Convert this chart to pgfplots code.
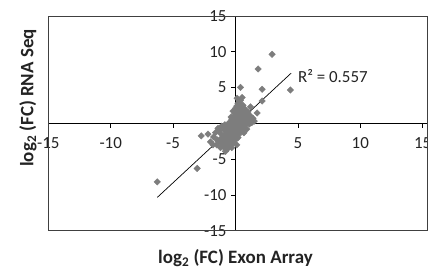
\documentclass[border=0pt]{standalone}
\usepackage{pgfplots}
\pgfplotsset{compat=1.18}
\usepackage{fontspec}
\setmainfont{Carlito}
\definecolor{pt}{RGB}{125,125,125}
\definecolor{txt}{RGB}{35,35,35}
\begin{document}
\begin{tikzpicture}
\begin{axis}[
  scale only axis,
  width=379.4bp, height=214.7bp,
  xmin=-15, xmax=15.4, ymin=-15, ymax=15,
  axis lines=middle,
  axis line style={-, black, line width=0.8pt},
  xtick={-15,-10,...,15}, ytick={-15,-10,...,15},
  tick align=outside,
  major tick length=4.5bp,
  tick style={black, line width=0.8pt},
  /pgf/number format/assume math mode=true,
  ticklabel style={font=\fontsize{17}{20}\selectfont, text=txt},
  xticklabel style={anchor=north, yshift=-6bp},
  yticklabel style={anchor=east, xshift=-1bp},
  xlabel={\textbf{log\textsubscript{2} (FC) Exon Array}},
  ylabel={\textbf{log\textsubscript{2} (FC) RNA Seq}},
  label style={font=\fontsize{19}{22}\selectfont, text=txt},
  xlabel style={at={(axis cs:0,-15)}, anchor=base, yshift=-32.6bp},
  ylabel style={at={(rel axis cs:0,0.618)}, xshift=-15bp, rotate=90, anchor=base},
  clip=false,
]
\draw[black!75, line width=1pt] (rel axis cs:0,0) rectangle (rel axis cs:1,1);
\coordinate (bl) at (rel axis cs:0,0);
\coordinate (tr) at (rel axis cs:1,1);
\addplot[only marks, mark=square*, mark size=2.3bp, mark options={rotate=45, fill=pt, draw=pt}] coordinates {
(2.93,9.65) (1.81,7.6) (0.4,5.03) (2.13,4.76) (4.4,4.66) (2.13,3.12) (1.73,1.45) (1.2,2.3)
(0.13,3.5) (0.53,3.6) (-2.75,-1.75) (-2.2,-1.5) (0.67,-1.3) (-3.07,-6.3) (-6.27,-8.17)
(-1.2,-3.4) (-1.47,-2.3) (-2.0,-2.6) (-1.8,-3.0)
(0.3,3.0) (0.2,2.8) (0.45,2.6) (0.1,2.4) (0.35,2.2) (0.6,2.5) (0.25,2.0) (0.5,1.9)
(0.05,1.8) (0.7,2.1) (0.15,1.6) (0.4,1.5) (0.65,1.7) (0.8,1.8) (0.3,1.3) (0.55,1.2)
(-0.05,1.4) (0.2,1.1) (0.9,1.4) (1.0,1.2) (0.75,1.0) (0.45,0.9) (0.1,0.8) (-0.15,0.9)
(0.35,0.6) (0.6,0.7) (1.1,0.9) (0.85,0.6) (1.2,0.5) (1.4,0.7) (1.5,0.3) (1.3,0.1)
(0.05,0.5) (-0.3,0.6) (-0.1,0.3) (0.25,0.3) (0.5,0.2) (0.7,0.3) (0.95,0.2) (1.1,-0.1)
(0.8,-0.2) (0.4,-0.1) (0.15,0.0) (-0.2,0.1) (-0.45,0.2) (-0.6,-0.1) (-0.35,-0.3) (-0.05,-0.4)
(0.3,-0.5) (0.6,-0.6) (0.9,-0.8) (0.2,-0.9) (-0.2,-0.8) (-0.5,-0.7) (-0.75,-0.5) (-0.9,-0.9)
(-0.6,-1.1) (-0.3,-1.2) (0.0,-1.3) (0.35,-1.4) (-0.1,-1.7) (-0.45,-1.6) (-0.8,-1.5) (-1.0,-1.8)
(-0.65,-2.0) (-0.3,-2.1) (0.05,-2.2) (-1.2,-2.2) (-0.9,-2.4) (-0.5,-2.5) (-0.2,-2.7) (-1.4,-2.5)
(-1.1,-2.8) (-0.7,-2.9) (-0.4,-3.1) (-1.5,-3.0) (-0.95,-3.3) (-0.6,-3.5) (-0.3,-3.4) (0.1,-3.0)
(-0.8,-3.9) (-1.75,-1.9) (-1.6,-1.3) (-1.3,-1.0) (0.8,0.9) (1.0,1.6) (0.2,-2.0) (0.5,-1.0)
(-1.1,-0.4) (-1.4,-0.7) (0.0,2.1) (0.25,2.5) (0.4,3.2) (0.15,1.9) (0.55,1.5) (-0.2,1.7)
(0.7,0.5) (0.35,0.1) (-0.25,-0.1) (0.1,-0.6) (-0.55,-0.4) (-0.15,-1.0) (0.45,-0.3) (0.05,-1.1)
(-0.4,-1.9) (-0.75,-2.3) (-0.15,-2.4) (-1.0,-2.6) (-0.5,-3.0) (0.0,-1.6) (0.3,0.9) (0.6,1.0)
(0.9,1.1) (1.2,1.0) (-0.35,0.9) (0.45,2.0) (-0.85,-0.2) (-1.2,-1.4) (0.15,-0.2) (0.55,-0.1)
};
\addplot[black, line width=0.7pt] coordinates {(-6.27,-10.35) (4.45,7.0)};
\node[anchor=west, inner sep=0pt, font=\fontsize{17}{20}\selectfont, text=txt] at (axis cs:5.0,6.6) {R² = 0.557};
\end{axis}
\pgfresetboundingbox
\path ([shift={(-48.3bp,-42.3bp)}]bl) rectangle ([shift={(0.3bp,16bp)}]tr);
\end{tikzpicture}
\end{document}
